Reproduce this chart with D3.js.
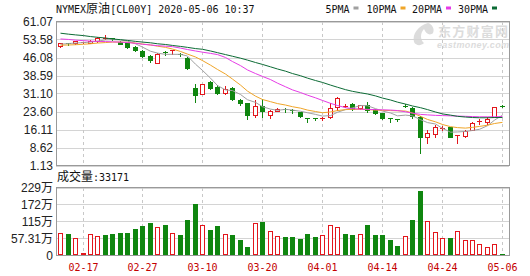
<!DOCTYPE html>
<html>
<head>
<meta charset="utf-8">
<script src="https://cdn.jsdelivr.net/npm/d3@7"></script>
<style>
  body { margin: 0; background: #fff; }
  svg { display: block; }
</style>
</head>
<body>
<svg id="chart"></svg>
<script>
// trading days shown (MM-DD)
const dates = [
    '02-12', '02-13', '02-14', '02-17', '02-18', '02-19', '02-20', '02-21', '02-24', '02-25',
    '02-26', '02-27', '02-28', '03-02', '03-03', '03-04', '03-05', '03-06', '03-09', '03-10',
    '03-11', '03-12', '03-13', '03-16', '03-17', '03-18', '03-19', '03-20', '03-23', '03-24',
    '03-25', '03-26', '03-27', '03-30', '03-31', '04-01', '04-02', '04-03', '04-06', '04-07',
    '04-08', '04-09', '04-13', '04-14', '04-15', '04-16', '04-17', '04-20', '04-21', '04-22',
    '04-23', '04-24', '04-27', '04-28', '04-29', '04-30', '05-01', '05-04', '05-05', '05-06'
];
const tickDates = ['02-17', '02-27', '03-10', '03-20', '04-01', '04-14', '04-24', '05-06'];

const opens = [
    50.7, 52.1, 52.0, 52.4, 52.2, 52.8, 53.9, 54.0, 52.4, 52.0,
    50.6, 48.8, 46.6, 44.0, 48.3, 48.9, 47.6, 46.0, 33.2, 31.0,
    35.8, 34.0, 31.5, 33.5, 28.6, 27.0, 22.1, 25.9, 22.1, 24.0,
    24.5, 24.4, 23.4, 20.7, 21.1, 20.3, 21.4, 25.6, 25.9, 26.6,
    24.9, 26.3, 24.5, 22.8, 20.7, 20.3, 26.1, 25.0, 21.4, 13.1,
    14.2, 16.6, 17.0, 13.4, 13.5, 15.9, 19.5, 19.4, 21.4, 26.0
];
const highs = [
    52.3, 52.2, 52.9, 52.7, 53.3, 54.6, 55.3, 54.2, 53.0, 52.2,
    50.9, 49.0, 47.3, 48.0, 48.9, 49.3, 47.9, 46.3, 35.2, 35.0,
    36.5, 34.6, 34.2, 33.9, 29.0, 27.2, 28.4, 28.9, 24.3, 25.0,
    24.9, 24.7, 23.6, 20.7, 21.1, 21.2, 27.0, 29.7, 26.7, 27.0,
    26.5, 27.6, 24.6, 23.0, 20.8, 20.4, 26.6, 25.3, 21.7, 15.9,
    17.9, 17.5, 17.1, 13.9, 15.8, 19.4, 20.4, 21.4, 25.3, 26.3
];
const lows = [
    50.6, 51.3, 51.9, 52.2, 52.0, 52.6, 53.7, 53.4, 51.5, 50.2,
    48.7, 46.4, 44.4, 43.8, 47.2, 47.6, 46.6, 41.4, 27.6, 30.9,
    32.9, 30.8, 31.0, 28.6, 26.5, 20.3, 21.4, 21.4, 20.7, 23.9,
    23.5, 23.1, 21.4, 19.3, 20.0, 20.2, 21.1, 24.2, 25.6, 24.2,
    24.7, 23.5, 22.6, 20.3, 19.3, 19.5, 25.3, 20.7, 6.5, 10.6,
    13.1, 16.0, 12.8, 10.4, 12.8, 15.7, 18.6, 18.6, 21.2, 25.3
];
const closes = [
    52.2, 51.9, 52.8, 52.5, 53.1, 54.4, 54.0, 53.6, 51.8, 50.6,
    49.0, 46.9, 45.2, 47.7, 48.0, 49.2, 47.0, 41.8, 30.4, 34.9,
    33.3, 31.5, 33.0, 28.8, 27.0, 22.1, 25.9, 24.0, 24.0, 24.5,
    24.3, 24.1, 21.7, 20.5, 20.9, 21.1, 24.9, 29.1, 26.1, 24.5,
    26.2, 24.3, 23.0, 21.1, 20.6, 20.2, 25.7, 21.6, 13.0, 14.5,
    17.2, 16.9, 13.2, 13.8, 15.4, 19.0, 19.8, 20.6, 25.3, 25.8
];

// moving averages as drawn
const ma5 = [
    51.6, 51.9, 52.1, 52.3, 52.5, 52.9, 53.4, 53.5, 53.4, 52.9,
    51.8, 50.4, 48.7, 47.9, 47.4, 47.4, 47.4, 46.7, 43.3, 40.7,
    37.5, 34.4, 32.6, 32.3, 30.7, 28.5, 27.4, 25.6, 24.6, 24.1,
    24.5, 24.2, 23.7, 23.1, 22.4, 21.7, 21.9, 23.3, 24.4, 25.1,
    26.1, 26.0, 24.8, 23.8, 23.0, 21.8, 22.1, 21.8, 20.2, 19.0,
    18.4, 16.6, 15.0, 15.1, 15.3, 15.7, 16.2, 17.7, 20.0, 22.1
];
const ma10 = [
    51.2, 51.3, 51.4, 51.6, 51.8, 52.1, 52.3, 52.5, 52.5, 52.4,
    52.1, 51.7, 51.3, 50.8, 50.3, 49.6, 48.6, 47.5, 46.3, 44.8,
    42.9, 41.1, 39.2, 37.1, 34.6, 32.1, 30.0, 28.6, 27.7, 26.9,
    26.3, 25.6, 25.0, 24.2, 23.6, 23.1, 23.4, 24.0, 24.4, 24.5,
    24.5, 24.4, 24.2, 24.1, 24.0, 23.9, 23.8, 23.0, 21.6, 20.3,
    19.3, 18.2, 17.3, 16.9, 16.7, 17.0, 17.4, 17.9, 18.6, 19.1
];
const ma20 = [
    53.8, 53.6, 53.3, 53.1, 52.9, 52.8, 52.7, 52.6, 52.5, 52.3,
    52.0, 51.6, 51.3, 51.0, 50.8, 50.6, 50.0, 49.4, 48.8, 48.3,
    47.8, 47.3, 46.1, 44.4, 42.7, 40.9, 39.4, 38.2, 36.9, 35.4,
    33.9, 32.6, 31.5, 30.4, 29.3, 28.2, 27.0, 26.1, 25.2, 24.8,
    24.6, 24.5, 24.4, 24.3, 24.2, 24.0, 23.5, 22.9, 22.4, 22.2,
    22.0, 21.9, 21.8, 21.7, 21.6, 21.5, 21.4, 21.4, 21.4, 21.5
];
const ma30 = [
    56.2, 55.8, 55.5, 55.2, 54.8, 54.5, 54.2, 53.8, 53.5, 53.2,
    52.8, 52.5, 52.2, 51.8, 51.5, 51.1, 50.7, 50.3, 49.8, 49.5,
    48.8, 48.1, 47.3, 46.6, 45.8, 45.0, 44.0, 43.2, 42.2, 41.3,
    40.4, 39.4, 38.5, 37.5, 36.5, 35.7, 34.6, 33.7, 32.7, 32.0,
    31.4, 30.9, 30.1, 29.2, 28.4, 27.5, 26.7, 25.9, 25.2, 24.4,
    23.4, 22.6, 22.1, 21.6, 21.3, 21.1, 21.0, 21.0, 21.1, 21.1
];

// volume in 万 (10k lots), and whether the bar is drawn red (up)
const volumes = [
    75.2, 70.8, 56.3, 7.8, 70.8, 64.0, 67.4, 70.8, 75.2, 75.2,
    87.7, 97.8, 108.9, 93.4, 101.1, 75.2, 67.4, 120.3, 171.9, 102.0,
    84.3, 97.8, 70.8, 67.4, 50.6, 26.0, 108.9, 112.3, 80.9, 64.0,
    59.7, 59.7, 53.9, 70.8, 59.7, 67.4, 103.4, 93.4, 70.8, 67.4,
    70.8, 101.1, 67.4, 67.4, 50.6, 30.3, 64.0, 118.0, 215.7, 114.6,
    76.5, 56.3, 56.3, 80.9, 50.6, 50.6, 37.1, 26.0, 37.1, 3.3
];
const volUp = [
    1, 0, 1, 1, 1, 1, 0, 0, 0, 0,
    0, 0, 0, 1, 0, 1, 0, 0, 0, 1,
    0, 0, 1, 0, 0, 0, 1, 0, 1, 1,
    0, 0, 0, 0, 0, 1, 1, 1, 0, 0,
    1, 0, 0, 0, 0, 0, 1, 0, 0, 1,
    1, 1, 0, 1, 1, 1, 1, 1, 1, 0
];

const priceTicks = [61.07, 53.58, 46.08, 38.59, 31.10, 23.60, 16.11, 8.62, 1.13];
const priceLabels = ['61.07', '53.58', '46.08', '38.59', '31.10', '23.60', '16.11', '8.62', '1.13'];
const volTicks = [229.24, 171.93, 114.62, 57.31, 0];
const volLabels = ['229万', '172万', '115万', '57.31万', '0'];

const title = 'NYMEX原油[CL00Y] 2020-05-06 10:37';
const volTitle = '成交量:33171';
const maNames = ['5PMA', '10PMA', '20PMA', '30PMA'];

const width = 530;
const height = 276;
const left = 56;
const right = 509;
const priceTop = 21.5;
const priceBottom = 165.5;
const volTop = 187.5;
const volBottom = 255;

const red = '#e3161c';
const green = '#0f860f';
const maColors = ['#a0a0a0', '#f0a528', '#e63ce6', '#0c6b35'];
const gridColor = '#d4d4d4';
const borderColor = '#9a9a9a';
const numFont = '"Liberation Sans", Arial, "Noto Sans CJK SC", sans-serif';
const monoFont = '"DejaVu Sans Mono", monospace';
const cjkFont = '"Noto Sans CJK SC", sans-serif';

const svg = d3.select('#chart').attr('width', width).attr('height', height);

const x = d3.scaleBand().domain(dates).range([56.3, 505.7]);
const cx = (d) => Math.round(x(d) + x.bandwidth() / 2);
const y = d3.scaleLinear().domain([1.13, 61.07]).range([priceBottom, priceTop]);
const yv = d3.scaleLinear().domain([0, 229.24]).range([volBottom, volTop]);

// text with ascii in mono 10px and CJK chars in 12px
function mixedText(sel, str) {
    const runs = str.match(/[\u3000-\u9fff]+|[^\u3000-\u9fff]+/g);
    runs.forEach((r) => {
        const cjk = /[\u3000-\u9fff]/.test(r);
        sel.append('tspan')
            .attr('font-family', cjk ? cjkFont : monoFont)
            .attr('font-size', cjk ? 12 : 10)
            .text(r);
    });
}

// watermark
const wm = svg.append('g').attr('fill', '#dcdcdc');
wm.append('path')
    .attr('d', 'M428,23 C418,26 412,34 414,42 C416,46 421,46 424,43 C420,40 420,33 424,29 C426,34 430,36 433,33 C435,29 432,24 428,23 Z');
wm.append('text')
    .attr('x', 438).attr('y', 35.5)
    .attr('font-family', cjkFont).attr('font-size', 13).attr('font-weight', 'bold')
    .attr('textLength', 70)
    .text('东方财富网');
wm.append('text')
    .attr('x', 437).attr('y', 48)
    .attr('font-family', numFont).attr('font-size', 9).attr('font-weight', 'bold')
    .attr('font-style', 'italic').attr('textLength', 72)
    .text('eastmoney.com');

// title + legend
const t = svg.append('text').attr('x', 56).attr('y', 13).attr('fill', '#111');
mixedText(t, title);

const legendX = [325.5, 366.5, 412, 458];
const legend = svg.append('g');
maNames.forEach((name, i) => {
    legend.append('text')
        .attr('x', legendX[i]).attr('y', 13)
        .attr('font-family', monoFont).attr('font-size', 10).attr('fill', '#111')
        .text(name);
    legend.append('rect')
        .attr('x', legendX[i] + name.length * 6 + 4).attr('y', 6.5)
        .attr('width', 5).attr('height', 3)
        .attr('fill', maColors[i]);
});

// ---- grids ----
const grid = svg.append('g').attr('shape-rendering', 'crispEdges');
priceTicks.forEach((v) => {
    grid.append('line')
        .attr('x1', left).attr('x2', right)
        .attr('y1', Math.round(y(v)) + 0.5).attr('y2', Math.round(y(v)) + 0.5)
        .attr('stroke', gridColor);
});
volTicks.forEach((v) => {
    grid.append('line')
        .attr('x1', left).attr('x2', right)
        .attr('y1', Math.round(yv(v)) + 0.5).attr('y2', Math.round(yv(v)) + 0.5)
        .attr('stroke', gridColor);
});
tickDates.forEach((d) => {
    [[priceTop, priceBottom], [volTop, volBottom]].forEach(([a, b]) => {
        grid.append('line')
            .attr('x1', cx(d) + 0.5).attr('x2', cx(d) + 0.5)
            .attr('y1', a).attr('y2', b)
            .attr('stroke', '#c8c8c8')
            .attr('stroke-dasharray', '3,3');
    });
});

// y axis labels
svg.append('g')
    .selectAll('text')
    .data(priceTicks)
    .join('text')
    .attr('x', 53)
    .attr('y', (d) => y(d) + 4.5)
    .attr('text-anchor', 'end')
    .attr('font-family', numFont)
    .attr('font-size', 12)
    .attr('fill', '#222')
    .text((d, i) => priceLabels[i]);

svg.append('g')
    .selectAll('text')
    .data(volTicks)
    .join('text')
    .attr('x', 53)
    .attr('y', (d) => yv(d) + 4.5)
    .attr('text-anchor', 'end')
    .attr('font-family', numFont)
    .attr('font-size', 12)
    .attr('fill', '#222')
    .text((d, i) => volLabels[i]);

// candles
const candles = svg.append('g').attr('shape-rendering', 'crispEdges');
dates.forEach((d, i) => {
    const o = opens[i], c = closes[i];
    const up = c >= o;
    const col = up ? red : green;
    const px = cx(d);
    const top = Math.round(y(Math.max(o, c)));
    const bot = Math.round(y(Math.min(o, c)));
    candles.append('line')
        .attr('x1', px + 0.5).attr('x2', px + 0.5)
        .attr('y1', Math.round(y(highs[i]))).attr('y2', Math.round(y(lows[i])) + 1)
        .attr('stroke', col);
    if (bot - top < 2) {
        candles.append('line')
            .attr('x1', px - 2).attr('x2', px + 3)
            .attr('y1', top + 0.5).attr('y2', top + 0.5)
            .attr('stroke', col);
    } else if (up) {
        candles.append('rect')
            .attr('x', px - 1.5).attr('y', top + 0.5)
            .attr('width', 4).attr('height', bot - top)
            .attr('fill', '#fff').attr('stroke', col);
    } else {
        candles.append('rect')
            .attr('x', px - 2).attr('y', top)
            .attr('width', 5).attr('height', bot - top + 1)
            .attr('fill', col);
    }
});

// moving average lines
const maSeries = [ma5, ma10, ma20, ma30];
const line = d3.line()
    .x((v, i) => cx(dates[i]) + 0.5)
    .y((v) => y(v));
maSeries.forEach((s, k) => {
    svg.append('path')
        .datum(s)
        .attr('d', line)
        .attr('fill', 'none')
        .attr('stroke', maColors[k])
        .attr('stroke-width', 1);
});

// ---- volume panel ----
const vt = svg.append('text').attr('x', 57).attr('y', 181).attr('fill', '#111');
mixedText(vt, volTitle);

const bars = svg.append('g').attr('shape-rendering', 'crispEdges');
dates.forEach((d, i) => {
    const px = cx(d);
    const top = Math.round(yv(volumes[i]));
    const bot = Math.round(yv(0));
    if (volUp[i]) {
        bars.append('rect')
            .attr('x', px - 1.5).attr('y', top + 0.5)
            .attr('width', 4).attr('height', Math.max(bot - top - 1, 1))
            .attr('fill', '#fff').attr('stroke', red);
    } else {
        bars.append('rect')
            .attr('x', px - 2).attr('y', top)
            .attr('width', 5).attr('height', Math.max(bot - top, 1))
            .attr('fill', green);
    }
});

// frames
const frames = svg.append('g').attr('shape-rendering', 'crispEdges')
    .attr('fill', 'none').attr('stroke', borderColor);
frames.append('rect')
    .attr('x', left + 0.5).attr('y', priceTop)
    .attr('width', right - left).attr('height', priceBottom - priceTop);
frames.append('rect')
    .attr('x', left + 0.5).attr('y', volTop)
    .attr('width', right - left).attr('height', volBottom - volTop);

// x labels
svg.append('g')
    .selectAll('text')
    .data(tickDates)
    .join('text')
    .attr('x', (d) => cx(d) + 0.5)
    .attr('y', 271)
    .attr('text-anchor', 'middle')
    .attr('font-family', monoFont)
    .attr('font-size', 10)
    .attr('fill', '#c40000')
    .text((d) => d);
</script>
</body>
</html>
